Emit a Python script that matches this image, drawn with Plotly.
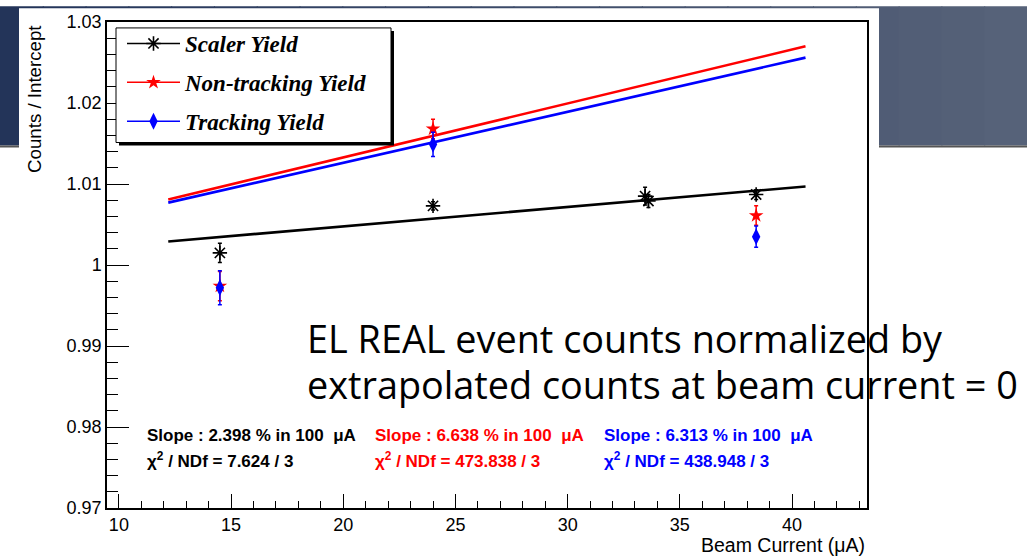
import plotly.graph_objects as go

# ---------------- data ----------------
beam_scaler = [14.5, 24.0, 33.45, 33.6, 38.4]
scaler_yield = [1.0015, 1.0073, 1.0085, 1.0079, 1.0087]
scaler_err = [0.0012, 0.0005, 0.0011, 0.0008, 0.0006]

beam_nontrk = [14.5, 24.0, 38.4]
nontrk_yield = [0.9974, 1.0168, 1.0061]
nontrk_err = [0.0018, 0.0012, 0.0012]

beam_trk = [14.5, 24.0, 38.4]
trk_yield = [0.9972, 1.0149, 1.0035]
trk_err = [0.0021, 0.0015, 0.0013]

fit_x = [12.2, 40.6]
fit_scaler = [1.0029, 1.0097]
fit_nontrk = [1.0081, 1.0270]
fit_trk = [1.0077, 1.0256]

legend_names = ["Scaler Yield", "Non-tracking Yield", "Tracking Yield"]
series_colors = ["black", "#ff0000", "#0000ff"]
slope_texts = ["Slope : 2.398 % in 100\u00a0\u00a0\u03bcA",
               "Slope : 6.638 % in 100\u00a0\u00a0\u03bcA",
               "Slope : 6.313 % in 100\u00a0\u00a0\u03bcA"]
chi_texts = ["\u03c7<sup>2</sup> / NDf = 7.624 / 3",
             "\u03c7<sup>2</sup> / NDf = 473.838 / 3",
             "\u03c7<sup>2</sup> / NDf = 438.948 / 3"]
y_ticks = [0.97, 0.98, 0.99, 1.00, 1.01, 1.02, 1.03]
y_ticktext = ["0.97", "0.98", "0.99", "1", "1.01", "1.02", "1.03"]
x_ticks = [10, 15, 20, 25, 30, 35, 40]

W, H = 1027, 556
L, R, T, B = 107, 867, 16, 508


def px(p):
    return (p - L) / (R - L)


def py(p):
    return (B - p) / (B - T)


fig = go.Figure()

# fit lines
for fy, c in zip([fit_scaler, fit_nontrk, fit_trk], series_colors):
    fig.add_trace(go.Scatter(x=fit_x, y=fy, mode="lines",
                             line=dict(color=c, width=2.6),
                             showlegend=False, hoverinfo="skip"))

# data points
markers = [dict(symbol="asterisk-open", size=12, color="black",
                line=dict(color="black", width=1.6)),
           dict(symbol="star", size=11, color="#ff0000",
                line=dict(width=0)),
           dict(symbol="diamond-tall", size=12, color="#0000ff",
                line=dict(width=0))]
for xs, ys, es, c, m in zip([beam_scaler, beam_nontrk, beam_trk],
                            [scaler_yield, nontrk_yield, trk_yield],
                            [scaler_err, nontrk_err, trk_err],
                            series_colors, markers):
    fig.add_trace(go.Scatter(x=xs, y=ys, mode="markers", marker=m,
                             error_y=dict(type="data", array=es, color=c,
                                          thickness=1.5, width=2),
                             showlegend=False))

# legend entries (no drawn marks)
for name, c, m in zip(legend_names, series_colors, markers):
    fig.add_trace(go.Scatter(x=[None], y=[None], mode="lines+markers",
                             name=name, marker=m,
                             line=dict(color=c, width=1.5),
                             legendgroup=name))

shapes = []
# slide header gradient
n = 24
c0 = (34, 52, 89)
c1 = (88, 99, 122)
for i in range(n):
    t = (i + 0.5) / n
    col = "rgb(%d,%d,%d)" % tuple(int(a + (b - a) * t) for a, b in zip(c0, c1))
    shapes.append(dict(type="rect", xref="paper", yref="paper",
                       x0=px(W * i / n), x1=px(W * (i + 1) / n + 1),
                       y0=py(0), y1=py(141), fillcolor=col,
                       line=dict(width=0), layer="below"))
shapes.append(dict(type="rect", xref="paper", yref="paper",
                   x0=px(0), x1=px(W), y0=py(141), y1=py(143),
                   fillcolor="#555555", line=dict(width=0), layer="below"))
# white chart panel
shapes.append(dict(type="rect", xref="paper", yref="paper",
                   x0=px(19), x1=px(879), y0=py(2), y1=py(H + 2),
                   fillcolor="white", line=dict(width=0), layer="below"))
# legend box with shadow
shapes.append(dict(type="rect", xref="paper", yref="paper",
                   x0=px(119), x1=px(394), y0=py(25), y1=py(141),
                   fillcolor="black", line=dict(width=0), layer="above"))
shapes.append(dict(type="rect", xref="paper", yref="paper",
                   x0=px(116), x1=px(391), y0=py(22), y1=py(138),
                   fillcolor="white", line=dict(color="black", width=1),
                   layer="above"))

annotations = []
fx = [145, 373, 602]
for i in range(3):
    annotations.append(dict(text=slope_texts[i], xref="paper", yref="paper",
                            x=px(fx[i]), y=py(435), xanchor="left",
                            yanchor="middle", showarrow=False,
                            font=dict(family="Liberation Sans", size=17,
                                      color=series_colors[i], weight="bold")))
    annotations.append(dict(text=chi_texts[i], xref="paper", yref="paper",
                            x=px(fx[i]), y=py(459), xanchor="left",
                            yanchor="middle", showarrow=False,
                            font=dict(family="Liberation Sans", size=17,
                                      color=series_colors[i], weight="bold")))

annotations.append(dict(text="EL REAL event counts normalized by",
                        xref="paper", yref="paper", x=px(305), y=py(336),
                        xanchor="left", yanchor="middle", showarrow=False,
                        font=dict(family="Open Sans", size=37.8, color="black")))
annotations.append(dict(text="extrapolated counts at beam current = 0",
                        xref="paper", yref="paper", x=px(305), y=py(383),
                        xanchor="left", yanchor="middle", showarrow=False,
                        font=dict(family="Open Sans", size=37.8, color="black")))

# axis titles
annotations.append(dict(text="Counts / Intercept", xref="paper", yref="paper",
                        x=px(35), y=py(17), xanchor="center", yanchor="top",
                        textangle=-90, showarrow=False,
                        font=dict(family="Liberation Sans", size=18.7,
                                  color="black")))
annotations.append(dict(text="Beam Current (\u03bcA)", xref="paper",
                        yref="paper", x=px(867), y=py(545), xanchor="right",
                        yanchor="middle", showarrow=False,
                        font=dict(family="Liberation Sans", size=19.5,
                                  color="black")))

fig.update_layout(
    width=W, height=H,
    margin=dict(l=L, r=W - R, t=T, b=H - B, pad=0),
    paper_bgcolor="white", plot_bgcolor="white",
    shapes=shapes, annotations=annotations,
    showlegend=True,
    legend=dict(x=px(122), y=py(16), xanchor="left", yanchor="top",
                bgcolor="rgba(0,0,0,0)", borderwidth=0,
                itemwidth=53, tracegroupgap=6,
                font=dict(family="Liberation Serif", size=23, color="black",
                          weight="bold", style="italic")),
    xaxis=dict(range=[9.47, 43.34], tickvals=x_ticks, ticks="inside",
               ticklen=14, tickwidth=1.3, tickcolor="black",
               showline=True, linecolor="black", linewidth=1.5, mirror=True,
               showgrid=False, zeroline=False,
               tickfont=dict(family="Liberation Sans", size=18, color="black"),
               minor=dict(dtick=1, ticks="inside", ticklen=7,
                          tickcolor="black", tickwidth=1.2, showgrid=False)),
    yaxis=dict(range=[0.97, 1.03], tickvals=y_ticks, ticktext=y_ticktext,
               ticks="inside", ticklen=22, tickwidth=1.3, tickcolor="black",
               showline=True, linecolor="black", linewidth=1.5, mirror=True,
               showgrid=False, zeroline=False,
               tickfont=dict(family="Liberation Sans", size=18, color="black"),
               minor=dict(dtick=0.002, ticks="inside", ticklen=11,
                          tickcolor="black", tickwidth=1.2, showgrid=False)),
)

fig.write_html("out.html")
